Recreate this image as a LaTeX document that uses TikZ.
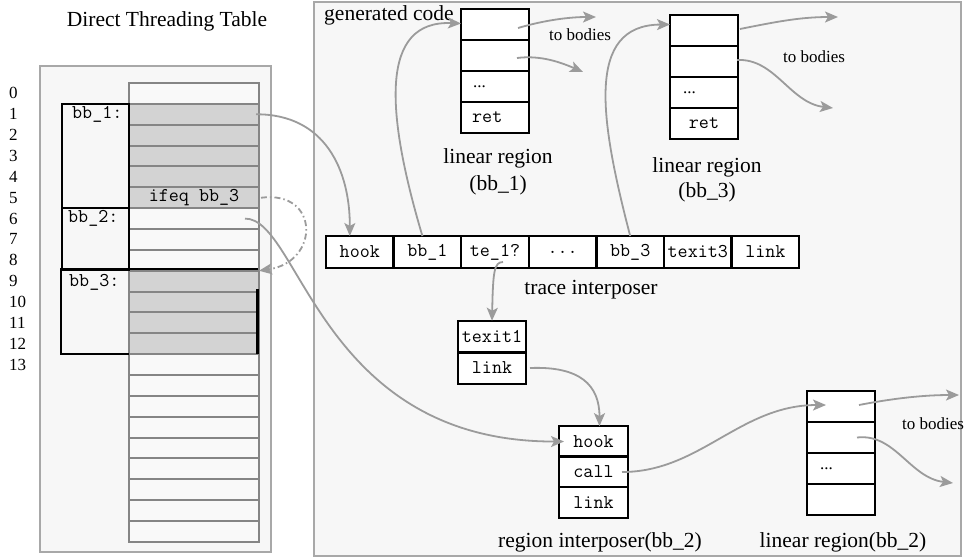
\documentclass[tikz,border=0pt]{standalone}
\usepackage{fontspec}
\setmainfont{Liberation Serif}
\usetikzlibrary{arrows.meta,calc}

\definecolor{panelfill}{HTML}{F7F7F7}
\definecolor{panelline}{HTML}{A8A8A8}
\definecolor{rowline}{HTML}{858585}
\definecolor{rowshade}{HTML}{D3D3D3}
\definecolor{rowplain}{HTML}{F9F9F9}
\definecolor{arrowgray}{HTML}{9B9B9B}

\begin{document}
\begin{tikzpicture}[x=1pt,y=-1pt,
  panel/.style={draw=panelline,fill=panelfill,line width=2pt},
  serif/.style={font=\fontsize{21.5}{24}\selectfont},
  small/.style={font=\fontsize{17}{19}\selectfont},
  code/.style={font=\ttfamily\fontsize{19.5}{21}\selectfont},
  tablerow/.style={draw=rowline,line width=2pt,minimum width=130pt,minimum height=20.86pt,
    inner sep=0pt,outer sep=0pt,anchor=north west},
  cell/.style={draw=black,line width=2.5pt,fill=white,inner sep=0pt,outer sep=0pt,
    minimum width=68pt,minimum height=31pt,code},
  tcell/.style={cell,minimum width=67.6pt,minimum height=32pt},
  blockline/.style={draw=black,line width=2.3pt},
  flow/.style={draw=arrowgray,line width=1.8pt,-{Stealth[length=13pt,width=11pt,inset=3pt]}},
  dashdot/.style={dash pattern=on 6pt off 3pt on 1.5pt off 3pt},
]
\useasboundingbox (0,0) rectangle (971,558);
\fill[white] (0,0) rectangle (971,558);

% panels
\draw[panel] (40,66) rectangle (271,552);
\draw[panel] (314,2) rectangle (961,556);

% ---------- direct threading table ----------
\node[serif] (ttitle) at (167,21) {Direct Threading Table};

\foreach \i/\shade in {0/rowplain,1/rowshade,2/rowshade,3/rowshade,4/rowshade,5/rowshade,
  6/rowplain,7/rowplain,8/rowplain,9/rowshade,10/rowshade,11/rowshade,12/rowshade,
  13/rowplain,14/rowplain,15/rowplain,16/rowplain,17/rowplain,18/rowplain,19/rowplain,
  20/rowplain,21/rowplain}
  \node[tablerow,fill=\shade] (row\i) at (129,{83+20.86*\i}) {};

\foreach \i in {0,...,13}
  \node[small,anchor=west,inner sep=0pt] (num\i) at (9,{93.4+20.86*\i}) {\i};

% basic block outlines
\draw[blockline] (62,104.2) rectangle (129,208.3);
\draw[blockline] (62,208.3) rectangle (129,270);
\draw[blockline] (129,354) -- (61,354) -- (61,268.7) -- (258,268.7);
\draw[blockline] (257.5,289) -- (257.5,354);

\node[code,anchor=west,inner sep=0pt] (lab1) at (72,114) {bb\_1:};
\node[code,anchor=west,inner sep=0pt] (lab2) at (68,218) {bb\_2:};
\node[code,anchor=west,inner sep=0pt] (lab3) at (69,282) {bb\_3:};
\node[code,inner sep=0pt] (ifeq) at (row5.center) {ifeq bb\_3};

% ---------- generated code ----------
\node[serif,anchor=west,inner sep=0pt] (gencode) at (324,15) {generated code};

% linear region (bb_1)
\node[cell] (la1) at (495,24.5) {};
\node[cell] (la2) at (495,55.5) {};
\node[cell] (la3) at (495,86.5) {};
\node[cell] (la4) at (495,117.5) {};
\node[small,anchor=west,inner sep=0pt] (la3t) at ([xshift=12pt]la3.west) {...};
\node[code,anchor=west,inner sep=0pt] (la4t) at ([xshift=11pt]la4.west) {ret};
\node[serif] (lrA) at (498,158) {linear region};
\node[serif] (lrAb) at (498,185) {(bb\_1)};
\node[small] (bodA) at (580,35) {to bodies};

% linear region (bb_3)
\node[cell] (lb1) at (704,30.5) {};
\node[cell] (lb2) at (704,61.5) {};
\node[cell] (lb3) at (704,92.5) {};
\node[cell] (lb4) at (704,123.5) {ret};
\node[small,anchor=west,inner sep=0pt] (lb3t) at ([xshift=13pt]lb3.west) {...};
\node[serif] (lrB) at (707,167) {linear region};
\node[serif] (lrBb) at (707,192) {(bb\_3)};
\node[small] (bodB) at (814,57) {to bodies};

% trace interposer
\node[tcell] (tc1) at (359.8,252) {hook};
\node[tcell] (tc2) at (427.4,252) {bb\_1};
\node[tcell] (tc3) at (495.0,252) {te\_1?};
\node[tcell] (tc4) at (562.6,252) {...};
\node[tcell] (tc5) at (630.2,252) {bb\_3};
\node[tcell] (tc6) at (697.8,252) {texit3};
\node[tcell] (tc7) at (765.4,252) {link};
\node[serif] (tilabel) at (591,290) {trace interposer};

% trace exit stub
\node[cell,minimum height=31.5pt] (tx1) at (492,336.5) {texit1};
\node[cell,minimum height=31.5pt] (tx2) at (492,368) {link};

% region interposer
\node[cell,minimum width=69pt,minimum height=30.7pt] (rh) at (593.5,441.5) {hook};
\node[cell,minimum width=69pt,minimum height=30.7pt] (rc) at (593.5,472) {call};
\node[cell,minimum width=69pt,minimum height=30.7pt] (rl) at (593.5,502.5) {link};
\node[serif] (rilabel) at (600,542) {region interposer(bb\_2)};

% linear region (bb_2)
\node[cell] (lc1) at (841,406.5) {};
\node[cell] (lc2) at (841,437.5) {};
\node[cell] (lc3) at (841,468.5) {};
\node[cell] (lc4) at (841,499.5) {};
\node[small,anchor=west,inner sep=0pt] (lc3t) at ([xshift=13pt]lc3.west) {...};
\node[serif] (lrC) at (843,542) {linear region(bb\_2)};
\node[small] (bodC) at (933,424) {to bodies};

% free ends of the "to bodies" branches
\coordinate (outA1) at (596,17);
\coordinate (outA2) at (583,72);
\coordinate (outB1) at (838,17);
\coordinate (outB2) at (833,108);
\coordinate (outC1) at (959,395);
\coordinate (outC2) at (953,483);

% ---------- connectors ----------
\draw[flow] ([xshift=-3pt]row1.east) .. controls (325,114) and (350,170) .. ([xshift=-10pt]tc1.north);
\draw[flow,dashdot] ([xshift=2pt]row5.east) .. controls (320,190) and (320,262) .. (row9.north east);
\draw[flow] ([xshift=-14pt]row6.east) .. controls (300,218) and (320,442) .. ([xshift=5pt]rh.west);

\draw[flow] ([xshift=-5pt]tc2.north) .. controls (385,110) and (380,20) .. ([yshift=1pt]la1.west);
\draw[flow] (tc5.north) .. controls (600,120) and (585,25) .. ([yshift=6pt]lb1.west);
\draw[flow] ([xshift=8pt,yshift=-10pt]tc3.center) .. controls (494,262) and (493,272) .. (tx1.north);
\draw[flow] ([xshift=4pt]tx2.east) .. controls (580,366) and (599.5,385) .. ([xshift=6pt]rh.north);
\draw[flow] ([xshift=-6pt]rc.east) .. controls (700,472) and (740,405) .. ([xshift=-15pt,yshift=1.5pt]lc1.center);

\draw[flow] ([xshift=23pt,yshift=-3.5pt]la1.center) .. controls (545,20) and (570,17) .. (outA1);
\draw[flow] ([xshift=22pt,yshift=-2.5pt]la2.center) .. controls (540,55) and (560,62) .. (outA2);
\draw[flow] ([xshift=2pt,yshift=1.5pt]lb1.east) .. controls (775,22) and (800,17) .. (outB1);
\draw[flow] ([xshift=-1pt,yshift=1.5pt]lb2.east) .. controls (775,58) and (790,103) .. (outB2);
\draw[flow] ([xshift=18pt,yshift=1.5pt]lc1.center) .. controls (895,398) and (925,395) .. (outC1);
\draw[flow] ([xshift=16pt]lc2.center) .. controls (895,433) and (910,478) .. (outC2);
\end{tikzpicture}
\end{document}
